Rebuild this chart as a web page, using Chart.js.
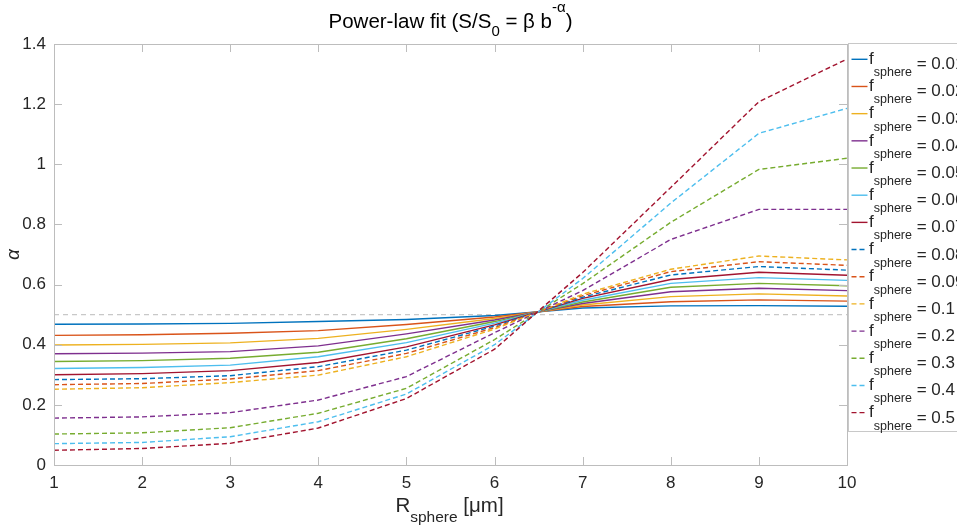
<!DOCTYPE html>
<html>
<head>
<meta charset="utf-8">
<script src="https://cdn.jsdelivr.net/npm/chart.js@4"></script>
<style>
  html, body { margin: 0; padding: 0; background: #fff; overflow: hidden; }
  #wrap { width: 957px; height: 526px; position: relative; }
</style>
</head>
<body>
<div id="wrap"><canvas id="fitChart"></canvas></div>
<script>
// R_sphere in micrometres
const rSphere = [1, 2, 3, 4, 5, 6, 7, 8, 9, 10];
const fSphereLabels = ['0.01', '0.02', '0.03', '0.04', '0.05', '0.06', '0.07',
                       '0.08', '0.09', '0.1', '0.2', '0.3', '0.4', '0.5'];

// fitted exponent alpha, one array per f_sphere
const alphaF001 = [0.468, 0.469, 0.471, 0.477, 0.484, 0.497, 0.522, 0.529, 0.530, 0.528];
const alphaF002 = [0.431, 0.433, 0.438, 0.447, 0.467, 0.492, 0.527, 0.543, 0.549, 0.545];
const alphaF003 = [0.399, 0.401, 0.406, 0.421, 0.451, 0.487, 0.532, 0.560, 0.569, 0.562];
const alphaF004 = [0.370, 0.372, 0.377, 0.396, 0.436, 0.482, 0.537, 0.576, 0.588, 0.580];
const alphaF005 = [0.344, 0.347, 0.355, 0.375, 0.420, 0.477, 0.542, 0.591, 0.604, 0.596];
const alphaF006 = [0.321, 0.324, 0.332, 0.360, 0.407, 0.472, 0.548, 0.604, 0.623, 0.614];
const alphaF007 = [0.300, 0.304, 0.314, 0.341, 0.393, 0.466, 0.554, 0.617, 0.641, 0.631];
const alphaF008 = [0.284, 0.287, 0.297, 0.327, 0.382, 0.462, 0.558, 0.632, 0.660, 0.648];
const alphaF009 = [0.267, 0.271, 0.286, 0.314, 0.371, 0.457, 0.563, 0.643, 0.676, 0.664];
const alphaF010 = [0.252, 0.257, 0.274, 0.299, 0.360, 0.452, 0.568, 0.651, 0.695, 0.682];
const alphaF020 = [0.156, 0.160, 0.174, 0.216, 0.294, 0.440, 0.580, 0.750, 0.850, 0.850];
const alphaF030 = [0.103, 0.107, 0.124, 0.172, 0.255, 0.417, 0.603, 0.807, 0.983, 1.020];
const alphaF040 = [0.071, 0.075, 0.094, 0.144, 0.236, 0.400, 0.620, 0.871, 1.103, 1.186];
const alphaF050 = [0.049, 0.055, 0.072, 0.123, 0.221, 0.385, 0.640, 0.923, 1.208, 1.350];

// grey reference line at alpha = 0.5
const refX = [1, 10];
const refAlpha = [0.5, 0.5];

const yTicks = [0, 0.2, 0.4, 0.6, 0.8, 1, 1.2, 1.4];
const xTicks = [1, 2, 3, 4, 5, 6, 7, 8, 9, 10];

const seriesValues = [alphaF001, alphaF002, alphaF003, alphaF004, alphaF005, alphaF006, alphaF007,
                      alphaF008, alphaF009, alphaF010, alphaF020, alphaF030, alphaF040, alphaF050];
const lineColors = ['#0072BD', '#D95319', '#EDB120', '#7E2F8E', '#77AC30', '#4DBEEE', '#A2142F'];

const FONT = "'Liberation Sans', Arial, Helvetica, sans-serif";
const TEXT = '#262626';
const AXIS = '#bdbdbd';

const datasets = fSphereLabels.map((lab, i) => ({
    label: lab,
    data: rSphere.map((x, j) => ({ x: x, y: seriesValues[i][j] })),
    borderColor: lineColors[i % 7],
    borderDash: i >= 7 ? [5, 3] : [],
    borderWidth: 1.4,
    pointRadius: 0,
    tension: 0,
    fill: false,
    order: 20 - i
}));
datasets.push({
    label: 'ref',
    isRef: true,
    data: refX.map((x, j) => ({ x: x, y: refAlpha[j] })),
    borderColor: '#c8c8c8',
    borderDash: [5, 4],
    borderWidth: 1.2,
    pointRadius: 0,
    fill: false,
    order: 40
});

// draw a run of text pieces (with sub/superscripts) starting at x
function richWidth(ctx, parts) {
    let w = 0;
    parts.forEach(p => { ctx.font = p.size + 'px ' + FONT; w += ctx.measureText(p.t).width; });
    return w;
}
function drawRich(ctx, parts, x, y) {
    parts.forEach(p => {
        ctx.font = p.size + 'px ' + FONT;
        ctx.fillText(p.t, x, y + (p.dy || 0));
        x += ctx.measureText(p.t).width;
    });
}

const framePlugin = {
    id: 'frame',
    afterDraw(chart) {
        const ctx = chart.ctx;
        const a = chart.chartArea;
        const xs = chart.scales.x, ys = chart.scales.y;
        ctx.save();

        // box and inward ticks
        ctx.strokeStyle = AXIS;
        ctx.lineWidth = 1;
        ctx.setLineDash([]);
        ctx.strokeRect(a.left + 0.5, a.top + 0.5, a.right - a.left, a.bottom - a.top);
        ctx.beginPath();
        xTicks.forEach(v => {
            const px = Math.round(xs.getPixelForValue(v)) + 0.5;
            ctx.moveTo(px, a.bottom); ctx.lineTo(px, a.bottom - 8);
            ctx.moveTo(px, a.top); ctx.lineTo(px, a.top + 8);
        });
        yTicks.forEach(v => {
            const py = Math.round(ys.getPixelForValue(v)) + 0.5;
            ctx.moveTo(a.left, py); ctx.lineTo(a.left + 8, py);
            ctx.moveTo(a.right, py); ctx.lineTo(a.right - 8, py);
        });
        ctx.stroke();

        // title
        ctx.fillStyle = '#000';
        ctx.textBaseline = 'alphabetic';
        ctx.textAlign = 'left';
        const title = [
            { t: 'Power-law fit (S/S', size: 20.5 },
            { t: '0', size: 15, dy: 8 },
            { t: ' = \u03B2 b', size: 20.5 },
            { t: '-\u03B1', size: 15, dy: -16 },
            { t: ')', size: 20.5 }
        ];
        const cx = (a.left + a.right) / 2;
        drawRich(ctx, title, cx - richWidth(ctx, title) / 2, 28);

        // x axis title
        ctx.fillStyle = TEXT;
        const xt = [
            { t: 'R', size: 20.5 },
            { t: 'sphere', size: 15.5, dy: 10 },
            { t: ' [\u03BCm]', size: 20.5 }
        ];
        drawRich(ctx, xt, cx - richWidth(ctx, xt) / 2 - 1, 512);

        // y axis title
        ctx.save();
        ctx.translate(19, (a.top + a.bottom) / 2);
        ctx.rotate(-Math.PI / 2);
        ctx.textAlign = 'center';
        ctx.font = 'italic 19px ' + FONT;
        ctx.fillText('\u03B1', 0, 0);
        ctx.restore();

        // legend box (runs off the right edge like the original)
        const lx = a.right + 1.5;
        ctx.fillStyle = '#fff';
        ctx.fillRect(lx, a.top, 200, 388);
        ctx.strokeStyle = '#c8c8c8';
        ctx.strokeRect(lx, a.top - 0.5, 200, 388);
        chart.data.datasets.forEach((ds, i) => {
            if (ds.isRef) return;
            const ly = 59.3 + i * 27.18;
            ctx.strokeStyle = ds.borderColor;
            ctx.lineWidth = 1.4;
            ctx.setLineDash(ds.borderDash);
            ctx.beginPath();
            ctx.moveTo(lx + 3, ly); ctx.lineTo(lx + 19, ly);
            ctx.stroke();
            ctx.setLineDash([]);
            ctx.fillStyle = TEXT;
            let tx = lx + 20.5;
            ctx.font = '17px ' + FONT;
            ctx.fillText('f', tx, ly + 4.7);
            tx += ctx.measureText('f').width;
            ctx.font = '12.5px ' + FONT;
            ctx.fillText('sphere', tx, ly + 17);
            tx += ctx.measureText('sphere').width;
            ctx.font = '17px ' + FONT;
            ctx.fillText(' = ' + ds.label, tx, ly + 10);
        });
        ctx.restore();
    }
};

new Chart(document.getElementById('fitChart'), {
    type: 'line',
    data: { datasets: datasets },
    options: {
        responsive: true,
        maintainAspectRatio: false,
        animation: false,
        layout: { padding: { top: 44, right: 110, left: 0, bottom: 0 } },
        plugins: {
            legend: { display: false },
            title: { display: false },
            tooltip: { enabled: false }
        },
        scales: {
            x: {
                type: 'linear',
                min: 1,
                max: 10,
                afterFit: s => { s.height = 61; },
                afterBuildTicks: s => { s.ticks = xTicks.map(v => ({ value: v })); },
                grid: { display: false, drawTicks: false },
                border: { display: false },
                ticks: {
                    color: TEXT,
                    padding: 8,
                    maxRotation: 0,
                    font: { family: FONT, size: 17 },
                    callback: v => String(v)
                }
            },
            y: {
                type: 'linear',
                min: 0,
                max: 1.4,
                afterFit: s => { s.width = 54; },
                afterBuildTicks: s => { s.ticks = yTicks.map(v => ({ value: v })); },
                grid: { display: false, drawTicks: false },
                border: { display: false },
                ticks: {
                    color: TEXT,
                    padding: 8,
                    font: { family: FONT, size: 17 },
                    callback: v => String(+v.toFixed(1))
                }
            }
        }
    },
    plugins: [framePlugin]
});
</script>
</body>
</html>
